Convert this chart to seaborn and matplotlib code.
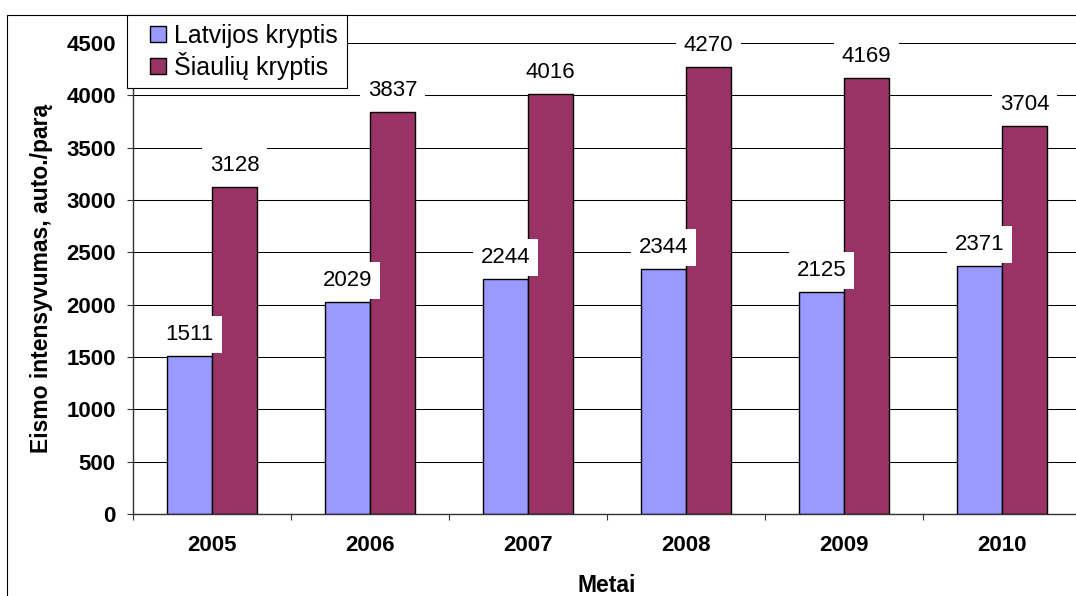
import matplotlib
matplotlib.use("Agg")
import matplotlib.pyplot as plt
import matplotlib.patches as mpatches
from matplotlib.legend_handler import HandlerPatch
import seaborn as sns
import pandas as pd
import numpy as np

years = ["2005", "2006", "2007", "2008", "2009", "2010"]
latvijos = [1511, 2029, 2244, 2344, 2125, 2371]
siauliu = [3128, 3837, 4016, 4270, 4169, 3704]
series_names = ["Latvijos kryptis", "Šiaulių kryptis"]
colors = ["#9999FF", "#993366"]

df = pd.DataFrame({
    "Metai": years * 2,
    "value": latvijos + siauliu,
    "series": [series_names[0]] * len(years) + [series_names[1]] * len(years),
})

sns.set_style("white")
plt.rcParams["font.family"] = ["Liberation Sans", "DejaVu Sans"]
plt.rcParams["text.color"] = "black"
plt.rcParams["axes.labelcolor"] = "black"
plt.rcParams["xtick.color"] = "black"
plt.rcParams["ytick.color"] = "black"

W, H = 1076, 596
fig = plt.figure(figsize=(W / 100, H / 100), dpi=100)
ax = fig.add_axes([133 / W, 1 - 514 / H, (1081 - 133) / W, (514 - 43) / H])

sns.barplot(
    data=df, x="Metai", y="value", hue="series", palette=colors,
    width=0.57, edgecolor="black", linewidth=1.0, saturation=1,
    errorbar=None, ax=ax, legend=False,
)

# outer chart frame
fig.patches.append(mpatches.Rectangle(
    (7 / W, -0.2), 1.2, 1.2 - 15 / H, transform=fig.transFigure,
    fill=False, edgecolor="black", linewidth=0.8, zorder=0))

ax.set_ylim(0, 4500)
ax.set_xlim(-0.5, 5.5)
ax.set_yticks(np.arange(0, 4501, 500))
ax.yaxis.grid(True, color="black", linewidth=0.75)
ax.set_axisbelow(True)

for s in ["top", "right"]:
    ax.spines[s].set_visible(False)
for s in ["left", "bottom"]:
    ax.spines[s].set_color("#333333")
    ax.spines[s].set_linewidth(1.0)

ax.set_xticks(np.arange(-0.5, 6, 1.0), minor=True)
ax.tick_params(axis="x", which="major", length=0, pad=15, labelsize=16)
ax.tick_params(axis="x", which="minor", length=4.5, width=0.8, color="#333333", direction="out", bottom=True)
ax.tick_params(axis="y", which="major", length=4.5, width=0.8, color="#333333", direction="out", left=True, pad=8, labelsize=16)
for lbl in ax.get_xticklabels() + ax.get_yticklabels():
    lbl.set_fontweight("bold")
    lbl.set_color("black")

ax.set_xlabel("Metai", fontsize=16.5, fontweight="bold", color="black")
ax.set_ylabel("Eismo intensyvumas, auto./parą", fontsize=16.5, fontweight="bold", color="black")
ax.xaxis.set_label_coords(0.5, -0.128)
ax.yaxis.set_label_coords(-0.084, 0.5)

# value labels with white boxes
for cont in ax.containers:
    for bar in cont:
        h = bar.get_height()
        ax.annotate(f"{int(round(h))}", (bar.get_x() + bar.get_width() / 2, h),
                    xytext=(0, 15.5), textcoords="offset points",
                    ha="center", va="center", fontsize=16, color="black", zorder=5,
                    bbox=dict(boxstyle="square,pad=0.36", fc="white", ec="none"))


# square legend key pushed to the right of its handle area (Excel look)
def square_key(legend, orig_handle, xdescent, ydescent, width, height, fontsize):
    size = 0.62 * fontsize
    return mpatches.Rectangle((width - size - xdescent, (height - size) / 2 - ydescent), size, size)


handles = [mpatches.Patch(facecolor=c, edgecolor="black", linewidth=1.0) for c in colors]
leg = fig.legend(handles, series_names, loc="upper left",
                 bbox_to_anchor=(127 / W, 1 - 15 / H), bbox_transform=fig.transFigure,
                 borderaxespad=0, fontsize=18, fancybox=False, frameon=True,
                 handlelength=1.2, handleheight=0.7, handletextpad=0.35,
                 labelspacing=0.15, borderpad=0.35, framealpha=1,
                 handler_map={mpatches.Patch: HandlerPatch(patch_func=square_key)})
leg.get_frame().set_edgecolor("black")
leg.get_frame().set_linewidth(0.8)
for t in leg.get_texts():
    t.set_color("black")

fig.savefig("out.png", dpi=100)
